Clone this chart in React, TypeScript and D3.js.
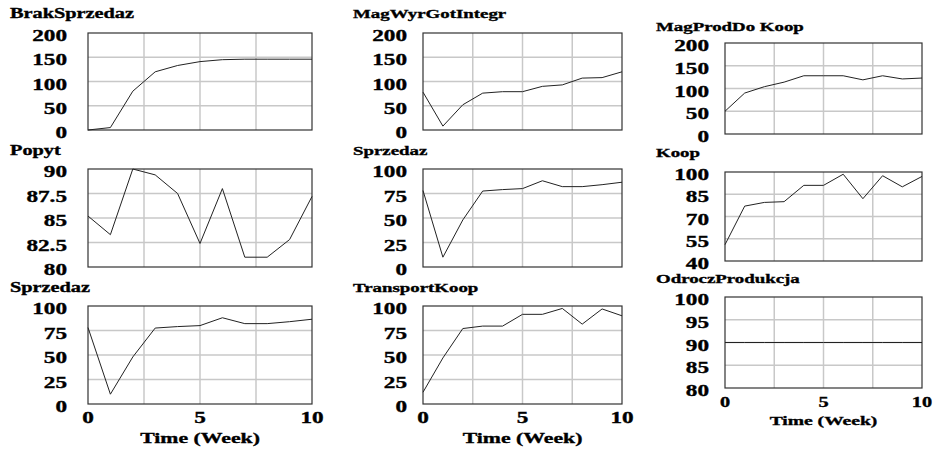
import * as d3 from 'd3'

// time axis (weeks)
const weeks = [0, 1, 2, 3, 4, 5, 6, 7, 8, 9, 10]
const xTicks = [0, 5, 10]

// series values
const brakSprzedaz = [0, 5, 80, 120, 133, 141, 145, 146, 146, 146, 146]
const magWyrGotIntegr = [78, 8, 52, 76, 79, 79, 90, 93, 107, 108, 120]
const magProdDoKoop = [50, 90, 104, 114, 128, 128, 128, 119, 128, 121, 123]
const popyt = [85.2, 83.3, 90, 89.4, 87.5, 82.4, 88, 81, 81, 82.8, 87.2]
const sprzedaz = [78, 10, 48, 77.5, 79, 80, 88, 82, 82, 84, 86.5]
const koop = [51, 77, 79.5, 80, 91, 91, 98.5, 82, 97.5, 90, 97]
const transportKoop = [12, 47, 77, 79.5, 79.5, 91.5, 91.5, 97.5, 81.5, 97, 90]
const odroczProdukcja = [90, 90, 90, 90, 90, 90, 90, 90, 90, 90, 90]

// y tick labels
const ticks200 = [0, 50, 100, 150, 200]
const ticks100 = [0, 25, 50, 75, 100]
const popytTicks = [80, 82.5, 85, 87.5, 90]
const koopTicks = [40, 55, 70, 85, 100]
const odroczTicks = [80, 85, 90, 95, 100]

const titles = [
  'BrakSprzedaz', 'MagWyrGotIntegr', 'MagProdDo Koop',
  'Popyt', 'Sprzedaz', 'Koop',
  'Sprzedaz', 'TransportKoop', 'OdroczProdukcja',
]
const seriesList = [
  brakSprzedaz, magWyrGotIntegr, magProdDoKoop,
  popyt, sprzedaz, koop,
  sprzedaz, transportKoop, odroczProdukcja,
]
const tickList = [
  ticks200, ticks200, ticks200,
  popytTicks, ticks100, koopTicks,
  ticks100, ticks100, odroczTicks,
]

// layout of the 3x3 grid (pixels)
const cols = [
  { x0: 88, x1: 312, titleX: 10, labelX: 67, titleSize: 14 },
  { x0: 423, x1: 622, titleX: 353, labelX: 407, titleSize: 13 },
  { x0: 725, x1: 922, titleX: 656, labelX: 709, titleSize: 13 },
]
const rowsLeft = [
  { y0: 33, y1: 130, titleY: 18 },
  { y0: 169, y1: 267, titleY: 155 },
  { y0: 306, y1: 404, titleY: 292 },
]
const rowsRight = [
  { y0: 43, y1: 134, titleY: 31 },
  { y0: 172, y1: 261, titleY: 157 },
  { y0: 297, y1: 388, titleY: 283 },
]

const FONT = "'Liberation Serif', 'Times New Roman', 'DejaVu Serif', serif"
const SX = 1.45

function Label({ x, y, size, anchor = 'start', children }: any) {
  return (
    <g transform={`translate(${x},${y}) scale(${SX},1)`}>
      <text
        style={{ fontFamily: FONT, fontWeight: 700, fontSize: size + 'px' }}
        textAnchor={anchor}
        fill="#000"
        stroke="#000"
        strokeWidth={0.35}
      >
        {children}
      </text>
    </g>
  )
}

function Panel({ i }: { i: number }) {
  const c = i % 3
  const r = Math.floor(i / 3)
  const col = cols[c]
  const row = c === 2 ? rowsRight[r] : rowsLeft[r]
  const ticks = tickList[i]
  const values = seriesList[i]
  const x = d3.scaleLinear().domain([0, 10]).range([col.x0, col.x1])
  const y = d3.scaleLinear().domain([ticks[0], ticks[ticks.length - 1]]).range([row.y1, row.y0])
  const line = d3.line<number>().x((_, k) => x(weeks[k])).y(d => y(d))
  const vGrid = [2.5, 5, 7.5]
  const isBottom = r === 2
  const xSize = c === 2 ? 14 : 16
  const timeSize = c === 2 ? 13.5 : 15

  return (
    <g>
      <Label x={col.titleX} y={row.titleY} size={col.titleSize}>{titles[i]}</Label>
      {vGrid.map(v => (
        <line key={'v' + v} x1={x(v)} x2={x(v)} y1={row.y0} y2={row.y1} stroke="#c8c8c8" strokeWidth={1.5} />
      ))}
      {ticks.slice(1, -1).map(t => (
        <line key={'h' + t} x1={col.x0} x2={col.x1} y1={y(t)} y2={y(t)} stroke="#c8c8c8" strokeWidth={1.5} />
      ))}
      <rect x={col.x0} y={row.y0} width={col.x1 - col.x0} height={row.y1 - row.y0}
        fill="none" stroke="#333" strokeWidth={1.2} />
      <path d={line(values) || ''} fill="none" stroke="#222" strokeWidth={1} />
      {ticks.map(t => (
        <Label key={'t' + t} x={col.labelX} y={y(t) + 8} size={16} anchor="end">{String(t)}</Label>
      ))}
      {isBottom && xTicks.map(t => (
        <Label key={'x' + t} x={x(t)} y={row.y1 + 19} size={xSize} anchor="middle">{String(t)}</Label>
      ))}
      {isBottom && (
        <Label x={(col.x0 + col.x1) / 2} y={row.y1 + (c === 2 ? 37 : 39)} size={timeSize} anchor="middle">
          Time (Week)
        </Label>
      )}
    </g>
  )
}

export default function App() {
  return (
    <svg width={937} height={451} style={{ position: 'absolute', left: 0, top: 0, background: '#fff' }}>
      {titles.map((_, i) => <Panel key={i} i={i} />)}
    </svg>
  )
}
